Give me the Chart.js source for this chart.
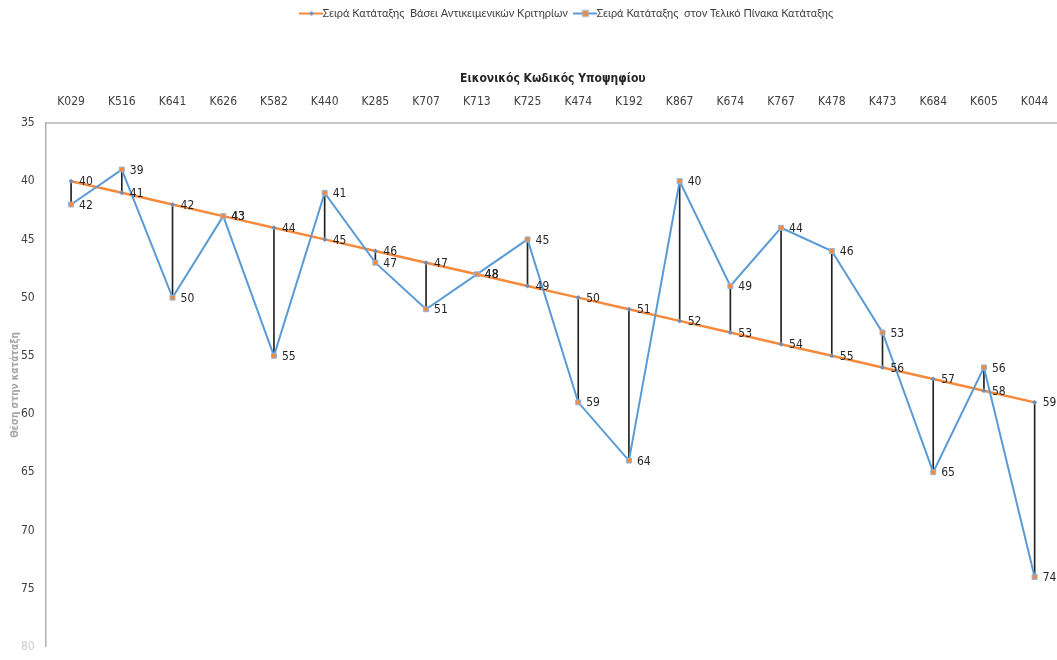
<!DOCTYPE html>
<html>
<head>
<meta charset="utf-8">
<script src="https://cdn.jsdelivr.net/npm/chart.js@4.4.1/dist/chart.umd.min.js"></script>
<style>
  html, body { margin: 0; padding: 0; background: #fff; overflow: hidden; }
  #clip { width: 1057px; height: 660px; overflow: hidden; position: relative; }
  #wrap { width: 1065px; height: 660px; position: absolute; left: 0; top: 0; }
</style>
</head>
<body>
<div id="clip"><div id="wrap"><canvas id="rankChart"></canvas></div></div>
<script>
// Candidate codes along the top axis
const candidates = ['K029', 'K516', 'K641', 'K626', 'K582', 'K440', 'K285', 'K707', 'K713', 'K725',
  'K474', 'K192', 'K867', 'K674', 'K767', 'K478', 'K473', 'K684', 'K605', 'K044']

// Rank by objective criteria (orange)
const objectiveRank = [40, 41, 42, 43, 44, 45, 46, 47, 48, 49, 50, 51, 52, 53, 54, 55, 56, 57, 58, 59]

// Rank in the final ranking table (blue)
const finalRank = [42, 39, 50, 43, 55, 41, 47, 51, 48, 45, 59, 64, 40, 49, 44, 46, 53, 65, 56, 74]

const yMin = 35
const yMax = 80
const yStep = 5

const ORANGE = '#F58A3D'
const BLUE = '#5B9BD5'
const MARKER_GREY = '#6C8EBF'
const FONT = '"Liberation Sans Narrow", "DejaVu Sans Condensed", Lato, sans-serif'
const LEGEND_FONT = 'Lato, "Open Sans", sans-serif'

// little "line + marker" swatches for the legend
function legendSwatch(lineColor, drawMarker) {
  const c = document.createElement('canvas')
  c.width = 24
  c.height = 10
  const g = c.getContext('2d')
  g.strokeStyle = lineColor
  g.lineWidth = 2
  g.beginPath()
  g.moveTo(0, 5)
  g.lineTo(24, 5)
  g.stroke()
  drawMarker(g, 12, 5)
  return c
}

const orangeSwatch = legendSwatch(ORANGE, (g, x, y) => {
  g.fillStyle = MARKER_GREY
  g.beginPath()
  g.moveTo(x, y - 2.5); g.lineTo(x + 2.5, y); g.lineTo(x, y + 2.5); g.lineTo(x - 2.5, y)
  g.closePath()
  g.fill()
})

const blueSwatch = legendSwatch(BLUE, (g, x, y) => {
  g.fillStyle = ORANGE
  g.strokeStyle = '#8FB4DE'
  g.lineWidth = 1
  g.fillRect(x - 3, y - 3, 6, 6)
  g.strokeRect(x - 3, y - 3, 6, 6)
})

// value labels to the right of each point
const valueLabels = {
  id: 'valueLabels',
  afterDatasetsDraw(chart) {
    const ctx = chart.ctx
    ctx.save()
    ctx.font = '12px ' + FONT
    ctx.fillStyle = '#262626'
    ctx.textAlign = 'left'
    ctx.textBaseline = 'middle'
    chart.data.datasets.forEach((ds, i) => {
      if (!ds.showValues) return
      const meta = chart.getDatasetMeta(i)
      meta.data.forEach((pt, j) => {
        ctx.fillText(String(ds.data[j]), pt.x + 8, pt.y + 1)
      })
    })
    ctx.restore()
  }
}

// the legend in the original sits a bit right of centre and close to the top
const legendShift = {
  id: 'legendShift',
  afterLayout(chart) {
    chart.legend.left += 32
    chart.legend.right += 32
    chart.legend.top -= 4
    chart.legend.bottom -= 4
  }
}

const dropLines = candidates.map((_, i) => [objectiveRank[i], finalRank[i]])

const chart = new Chart(document.getElementById('rankChart'), {
  type: 'line',
  data: {
    labels: candidates,
    datasets: [
      {
        label: 'Σειρά Κατάταξης  Βάσει Αντικειμενικών Κριτηρίων',
        data: objectiveRank,
        borderColor: ORANGE,
        backgroundColor: MARKER_GREY,
        borderWidth: 2.5,
        pointStyle: 'rectRot',
        pointRadius: 2.5,
        pointBorderWidth: 0,
        pointBackgroundColor: MARKER_GREY,
        tension: 0,
        clip: false,
        order: 1,
        showValues: true,
      },
      {
        label: 'Σειρά Κατάταξης  στον Τελικό Πίνακα Κατάταξης',
        data: finalRank,
        borderColor: BLUE,
        backgroundColor: ORANGE,
        borderWidth: 2,
        pointStyle: 'rect',
        pointRadius: 3.5,
        pointBorderWidth: 1,
        pointBorderColor: '#8FB4DE',
        pointBackgroundColor: ORANGE,
        tension: 0,
        clip: false,
        order: 0,
        showValues: true,
      },
      {
        type: 'bar',
        label: 'drop',
        data: dropLines,
        backgroundColor: '#222222',
        barThickness: 1,
        clip: false,
        order: 2,
      },
    ],
  },
  options: {
    responsive: true,
    maintainAspectRatio: false,
    animation: false,
    layout: {
      padding: { top: 0, right: 0, bottom: 0, left: 10 },
    },
    plugins: {
      tooltip: { enabled: false },
      legend: {
        position: 'top',
        labels: {
          usePointStyle: true,
          padding: 12,
          color: '#404040',
          font: { family: LEGEND_FONT, size: 11 },
          generateLabels(chart) {
            return [
              { text: chart.data.datasets[0].label, pointStyle: orangeSwatch, datasetIndex: 0, fontColor: '#404040', lineWidth: 0, strokeStyle: 'transparent' },
              { text: chart.data.datasets[1].label, pointStyle: blueSwatch, datasetIndex: 1, fontColor: '#404040', lineWidth: 0, strokeStyle: 'transparent' },
            ]
          },
        },
      },
    },
    scales: {
      x: {
        position: 'top',
        offset: true,
        grid: { display: false, drawTicks: false },
        border: { display: true, color: '#C8C8C8', width: 2 },
        ticks: {
          color: '#404040',
          padding: 15,
          maxRotation: 0,
          autoSkip: false,
          font: { family: FONT, size: 12, lineHeight: 1 },
        },
        title: {
          display: true,
          text: 'Εικονικός Κωδικός Υποψηφίου',
          color: '#262626',
          font: { family: FONT, size: 12, weight: 'bold', lineHeight: 1 },
          padding: { top: 40, bottom: -4 },
        },
      },
      y: {
        reverse: true,
        min: yMin,
        max: yMax,
        grid: { display: false, drawOnChartArea: false, drawTicks: true, tickLength: 5, color: '#A6A6A6' },
        border: { display: true, color: '#B0B0B0', width: 1.5 },
        ticks: {
          stepSize: yStep,
          color: (ctx) => ctx.tick && ctx.tick.value === yMax ? '#C8CCD4' : '#404040',
          padding: 6,
          font: { family: FONT, size: 12 },
        },
        title: {
          display: true,
          text: 'Θέση στην κατάταξη',
          color: '#A6A6A6',
          font: { family: FONT, size: 10, weight: 'bold', lineHeight: 1 },
          padding: { top: 0, bottom: -5 },
        },
      },
    },
  },
  plugins: [valueLabels, legendShift],
})
</script>
</body>
</html>
